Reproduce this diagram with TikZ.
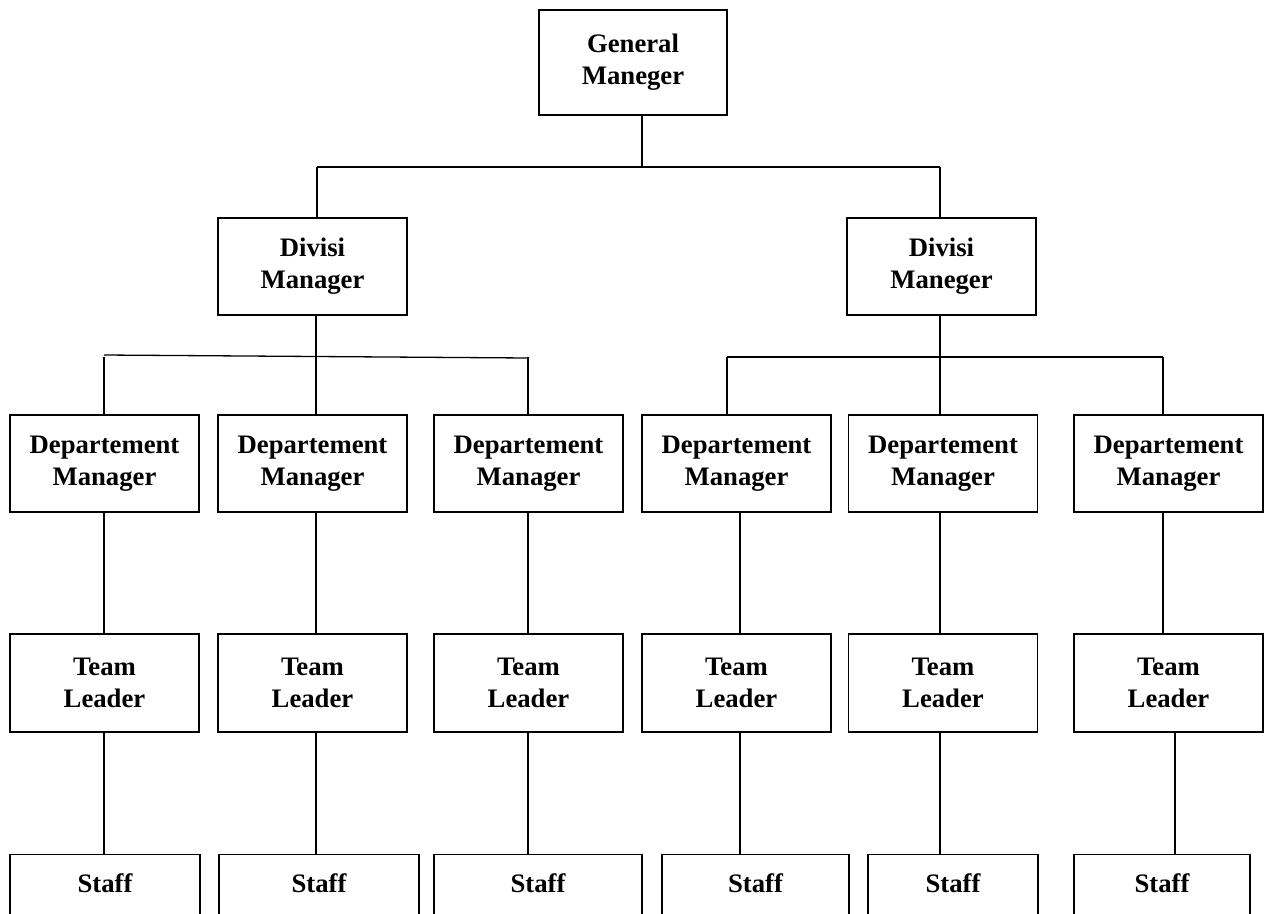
\documentclass[tikz,border=0pt]{standalone}
\usepackage{fontspec}
\setmainfont{Liberation Serif}
\begin{document}
\begin{tikzpicture}[x=1pt,y=-1pt,
  box/.style={draw, line width=1.1pt, inner sep=0pt, align=center,
    font=\fontsize{26.7}{32}\selectfont\bfseries},
  conn/.style={line width=1.3pt}]
\useasboundingbox (0,0) rectangle (1266,913);
\clip (0,0) rectangle (1266,913);
% top
\node[box, minimum width=188pt, minimum height=105pt] (gm) at (633,62.5) {General\\Maneger};
\node[box, minimum width=189pt, minimum height=97pt] (dl) at (312.5,266.5) {Divisi\\Manager};
\node[box, minimum width=189pt, minimum height=97pt] (dr) at (941.5,266.5) {Divisi\\Maneger};
% departments and team leaders
\foreach \i/\cx in {1/104.5,2/312.5,3/528.5,4/736.5,5/943,6/1168.5}{
  \node[box, minimum width=189pt, minimum height=97pt] (d\i) at (\cx,463.5) {Departement\\Manager};
  \node[box, minimum width=189pt, minimum height=98pt] (t\i) at (\cx,683) {Team\\Leader};
}
% staff
\foreach \i/\cx/\w in {1/105/190,2/319/200,3/538/208,4/755.5/187,5/953/170,6/1162/176}{
  \node[box, minimum width=\w pt, text height=38pt, text depth=80pt, anchor=north] (s\i) at (\cx,854) {Staff};
}
% connectors top
\coordinate (c0) at (642,167);
\coordinate (cL) at (317,167);
\coordinate (cR) at (940,167);
\draw[conn] (gm.south -| c0) -- (c0);
\draw[conn] (cL) -- (cR);
\draw[conn] (cL) -- (dl.north -| cL);
\draw[conn] (cR) -- (dr.north -| cR);
% division bars
\coordinate (bl0) at (316,357);
\coordinate (br0) at (940,357);
\draw[conn] (dl.south -| bl0) -- (bl0);
\draw[conn] (dr.south -| br0) -- (br0);
\coordinate (blA) at (104,355);
\coordinate (blB) at (528,358);
\coordinate (brA) at (727,357);
\coordinate (brB) at (1163,357);
\draw[conn] (blA) -- (blB);
\draw[conn] (brA) -- (brB);
\foreach \i/\a/\b/\c in {1/104/104/104,2/316/316/316,3/528/528/528,4/727/740/740,5/940/940/940,6/1163/1163/1175}{
  \coordinate (ua\i) at (\a,357);
  \coordinate (ub\i) at (\b,0);
  \coordinate (uc\i) at (\c,0);
  \draw[conn] (d\i.north -| ua\i) -- (ua\i);
  \draw[conn] (d\i.south -| ub\i) -- (t\i.north -| ub\i);
  \draw[conn] (t\i.south -| uc\i) -- (s\i.north -| uc\i);
}
\end{tikzpicture}
\end{document}
